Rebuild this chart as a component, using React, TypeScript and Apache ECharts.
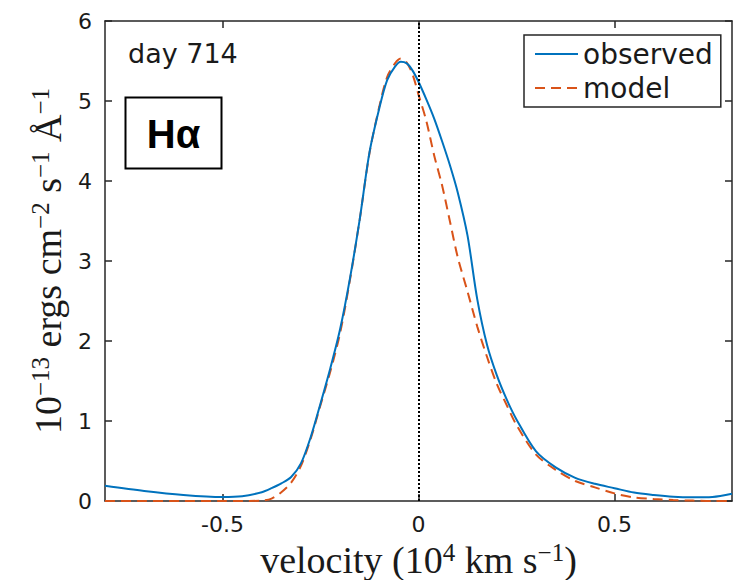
import React, { useEffect, useRef } from "react";
import * as echarts from "echarts";

const velocity = [
  -0.8, -0.7, -0.6, -0.5, -0.45, -0.4, -0.375, -0.35, -0.325, -0.3, -0.275, -0.25,
  -0.225, -0.2, -0.175, -0.15, -0.125, -0.1, -0.08, -0.06, -0.045, -0.03, -0.015, 0,
  0.02, 0.04, 0.06, 0.08, 0.1, 0.125, 0.15, 0.175, 0.2, 0.225, 0.25, 0.3, 0.35, 0.4,
  0.45, 0.5, 0.55, 0.6, 0.65, 0.7, 0.75, 0.8,
];

const observed = [
  0.19, 0.125, 0.075, 0.05, 0.06, 0.11, 0.16, 0.22, 0.3, 0.47, 0.8, 1.22,
  1.66, 2.15, 2.78, 3.52, 4.36, 4.91, 5.26, 5.43, 5.49, 5.47, 5.38, 5.24,
  5.02, 4.78, 4.5, 4.2, 3.86, 3.32, 2.52, 1.95, 1.57, 1.27, 1.02, 0.62, 0.42, 0.29,
  0.215, 0.16, 0.105, 0.075, 0.053, 0.046, 0.05, 0.09,
];

const model = [
  0.0, 0.0, 0.0, 0.0, 0.0, 0.005, 0.03, 0.11, 0.23, 0.44, 0.78, 1.2,
  1.62, 2.1, 2.76, 3.52, 4.35, 4.93, 5.3, 5.47, 5.53, 5.48, 5.33, 5.08,
  4.75, 4.32, 3.95, 3.5, 3.05, 2.62, 2.18, 1.8, 1.46, 1.2, 0.95, 0.58, 0.39, 0.25,
  0.17, 0.095, 0.045, 0.025, 0.012, 0.005, 0.0, 0.0,
];

const xTicks = [-0.5, 0, 0.5];
const seriesNames = ["observed", "model"];

const AXIS = "#262626";
const BLUE = "#0072BD";
const RED = "#D95319";

export default function App() {
  const ref = useRef<HTMLDivElement>(null);

  useEffect(() => {
    if (!ref.current) return;
    const chart = echarts.init(ref.current, undefined, { renderer: "svg" });

    const axisLine = { onZero: false, lineStyle: { color: AXIS, width: 1.5 } };
    const tickStyle = { color: AXIS, width: 1.5 };
    const nameRich = {
      b: { fontSize: 38, fontFamily: "Liberation Serif", color: "#1a1a1a", lineHeight: 40 },
      s: { fontSize: 25, fontFamily: "Liberation Serif", color: "#1a1a1a", lineHeight: 22, verticalAlign: "top" },
    };

    const option: any = {
      animation: false,
      backgroundColor: "#ffffff",
      grid: { left: 105, right: 1, top: 21, bottom: 79, containLabel: false, outerBoundsMode: "none" },
      legend: {
        data: seriesNames,
        orient: "vertical",
        left: 524,
        top: 35,
        padding: [2, 8, 2, 10],
        itemGap: 0,
        itemWidth: 43,
        itemHeight: 14,
        borderColor: AXIS,
        borderWidth: 1.5,
        backgroundColor: "#ffffff",
        itemStyle: { opacity: 0 },
        textStyle: {
          fontSize: 28,
          lineHeight: 34,
          fontFamily: "DejaVu Sans",
          color: "#1a1a1a",
        },
      },
      xAxis: [
        {
          type: "value",
          min: -0.8,
          max: 0.8,
          position: "bottom",
          axisLine,
          axisTick: { inside: true, length: 7, customValues: xTicks, lineStyle: tickStyle },
          axisLabel: {
            customValues: xTicks,
            fontSize: 22,
            fontFamily: "DejaVu Sans",
            color: "#1a1a1a",
            margin: 12,
          },
          splitLine: { show: false },
          name: "{b|velocity (10}{s|4}{b| km s}{s|−1}{b|)}",
          nameLocation: "middle",
          nameGap: 33,
          nameTextStyle: { rich: nameRich },
        },
        {
          type: "value",
          min: -0.8,
          max: 0.8,
          position: "top",
          axisLine,
          axisTick: { inside: true, length: 7, customValues: xTicks, lineStyle: tickStyle },
          axisLabel: { show: false },
          splitLine: { show: false },
        },
      ],
      yAxis: [
        {
          type: "value",
          min: 0,
          max: 6,
          interval: 1,
          position: "left",
          axisLine,
          axisTick: { inside: true, length: 7, lineStyle: tickStyle },
          axisLabel: {
            fontSize: 22,
            fontFamily: "DejaVu Sans",
            color: "#1a1a1a",
            margin: 13,
          },
          splitLine: { show: false },
          name: "{b|10}{s|−13}{b| ergs cm}{s|−2}{b| s}{s|−1}{b| Å}{s|−1}",
          nameLocation: "middle",
          nameRotate: 90,
          nameGap: 33,
          nameTextStyle: { rich: nameRich },
        },
        {
          type: "value",
          min: 0,
          max: 6,
          interval: 1,
          position: "right",
          axisLine,
          axisTick: { inside: true, length: 7, lineStyle: tickStyle },
          axisLabel: { show: false },
          splitLine: { show: false },
        },
      ],
      series: [
        {
          name: seriesNames[0],
          type: "line",
          xAxisIndex: 0,
          yAxisIndex: 0,
          data: velocity.map((v, i) => [v, observed[i]]),
          symbol: "none",
          smooth: 0.3,
          lineStyle: { color: BLUE, width: 2 },
          itemStyle: { color: BLUE },
          z: 3,
          markLine: {
            silent: true,
            symbol: ["none", "none"],
            label: { show: false },
            lineStyle: { color: "#000000", type: [2, 2], width: 2 },
            data: [{ xAxis: 0 }],
          },
        },
        {
          name: seriesNames[1],
          type: "line",
          xAxisIndex: 0,
          yAxisIndex: 0,
          data: velocity.map((v, i) => [v, model[i]]),
          symbol: "none",
          smooth: 0.3,
          lineStyle: { color: RED, width: 2, type: [10, 6] },
          itemStyle: { color: RED },
          z: 2,
        },
      ],
      graphic: [
        {
          type: "text",
          left: 128,
          top: 40,
          style: {
            text: "day 714",
            fontSize: 27,
            fontFamily: "DejaVu Sans",
            fill: "#1a1a1a",
          },
          z: 10,
        },
        {
          type: "rect",
          shape: { x: 125.5, y: 97.5, width: 96, height: 71 },
          style: { fill: "#ffffff", stroke: "#000000", lineWidth: 2 },
          z: 10,
        },
        {
          type: "text",
          x: 173.5,
          y: 134,
          style: {
            text: "Hα",
            fontSize: 40,
            fontWeight: "bold",
            fontFamily: "Liberation Sans",
            fill: "#000000",
            align: "center",
            verticalAlign: "middle",
          },
          z: 11,
        },
      ],
    };

    chart.setOption(option);
    return () => chart.dispose();
  }, []);

  return (
    <div
      ref={ref}
      style={{ position: "absolute", left: 0, top: 0, width: 733, height: 580, background: "#fff" }}
    />
  );
}
